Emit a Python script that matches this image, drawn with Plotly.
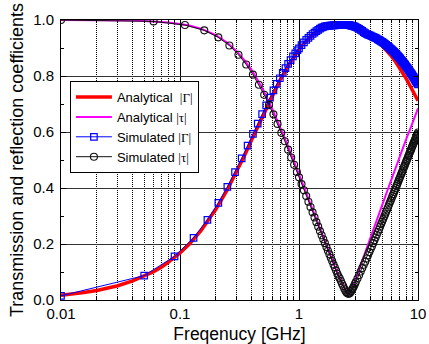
import plotly.graph_objects as go

# Analytical model curves (GHz, magnitude)
freq_an = [0.01, 0.012, 0.015, 0.02, 0.025, 0.03, 0.04, 0.05, 0.06, 0.07,
           0.08, 0.1, 0.12, 0.15, 0.2, 0.25, 0.3, 0.35, 0.4, 0.45,
           0.5, 0.6, 0.7, 0.8, 0.9, 1.0, 1.1, 1.2, 1.3, 1.4,
           1.5, 1.6, 1.8, 2.0, 2.2, 2.3, 2.4, 2.5, 2.55, 2.6,
           2.65, 2.7, 2.8, 2.9, 3.0, 3.2, 3.4, 3.6, 3.8, 4.0,
           4.3, 4.6, 5.0, 5.5, 6.0, 6.5, 7.0, 7.5, 8.0, 8.5,
           9.0, 9.5, 10.0]
gamma_an = [0.017, 0.020, 0.026, 0.034, 0.042, 0.051, 0.068, 0.085, 0.101, 0.118,
            0.135, 0.168, 0.200, 0.248, 0.324, 0.394, 0.459, 0.518, 0.572, 0.619,
            0.662, 0.733, 0.789, 0.832, 0.867, 0.894, 0.916, 0.933, 0.947, 0.958,
            0.967, 0.975, 0.980, 0.981, 0.981, 0.982, 0.982, 0.982, 0.982, 0.982,
            0.982, 0.981, 0.979, 0.977, 0.974, 0.966, 0.959, 0.951, 0.946, 0.941,
            0.932, 0.922, 0.908, 0.889, 0.870, 0.850, 0.829, 0.809, 0.789, 0.768,
            0.749, 0.729, 0.712]
tau_an = [1.000, 1.000, 1.000, 0.999, 0.999, 0.999, 0.998, 0.996, 0.995, 0.993,
          0.991, 0.986, 0.980, 0.969, 0.946, 0.919, 0.888, 0.855, 0.821, 0.785,
          0.750, 0.680, 0.615, 0.554, 0.499, 0.448, 0.402, 0.360, 0.321, 0.286,
          0.253, 0.223, 0.168, 0.119, 0.078, 0.059, 0.041, 0.027, 0.022, 0.020,
          0.022, 0.028, 0.043, 0.059, 0.076, 0.108, 0.139, 0.168, 0.196, 0.222,
          0.260, 0.295, 0.339, 0.388, 0.433, 0.474, 0.511, 0.545, 0.577, 0.605,
          0.631, 0.657, 0.684]

# Simulated reflection |Gamma| (square markers)
freq_sim_gamma = [0.01, 0.05, 0.09, 0.13, 0.17, 0.21, 0.25, 0.29, 0.33, 0.37,
                  0.41, 0.45, 0.49, 0.53, 0.57, 0.61, 0.65, 0.69, 0.73, 0.77,
                  0.81, 0.85, 0.89, 0.93, 0.97,
                  1.00, 1.05, 1.10, 1.15, 1.20, 1.25, 1.30, 1.35, 1.40, 1.45,
                  1.50, 1.55, 1.60, 1.65, 1.70, 1.75, 1.80, 1.85, 1.90, 1.95,
                  2.00, 2.05, 2.10, 2.15, 2.20, 2.25, 2.30, 2.35, 2.40, 2.45,
                  2.50, 2.55, 2.60, 2.65, 2.70, 2.75, 2.80, 2.85, 2.90, 2.95,
                  3.00,
                  3.1, 3.2, 3.3, 3.4, 3.5, 3.6, 3.7, 3.8, 3.9, 4.0,
                  4.1, 4.2, 4.3, 4.4, 4.5, 4.6, 4.7, 4.8, 4.9, 5.0,
                  5.1, 5.2, 5.3, 5.4, 5.5, 5.6, 5.7, 5.8, 5.9, 6.0,
                  6.1, 6.2, 6.3, 6.4, 6.5, 6.6, 6.7, 6.8, 6.9, 7.0,
                  7.1, 7.2, 7.3, 7.4, 7.5, 7.6, 7.7, 7.8, 7.9, 8.0,
                  8.1, 8.2, 8.3, 8.4, 8.5, 8.6, 8.7, 8.8, 8.9, 9.0,
                  9.1, 9.2, 9.3, 9.4, 9.5, 9.6, 9.7, 9.8, 9.9, 10.0]
gamma_sim = [0.015, 0.087, 0.156, 0.222, 0.286, 0.347, 0.404, 0.457, 0.506, 0.551,
             0.593, 0.630, 0.664, 0.695, 0.723, 0.749, 0.772, 0.792, 0.811, 0.828,
             0.843, 0.857, 0.870, 0.881, 0.892,
             0.899, 0.910, 0.920, 0.929, 0.936, 0.943, 0.950, 0.955, 0.960, 0.965,
             0.969, 0.973, 0.975, 0.977, 0.978, 0.979, 0.980, 0.980, 0.981, 0.981,
             0.981, 0.982, 0.982, 0.982, 0.982, 0.982, 0.982, 0.982, 0.982, 0.982,
             0.982, 0.982, 0.982, 0.982, 0.981, 0.980, 0.979, 0.978, 0.977, 0.976,
             0.975,
             0.972, 0.968, 0.965, 0.961, 0.957, 0.953, 0.950, 0.948, 0.946, 0.944,
             0.942, 0.940, 0.938, 0.936, 0.934, 0.931, 0.929, 0.926, 0.924, 0.922,
             0.919, 0.917, 0.914, 0.911, 0.908, 0.906, 0.903, 0.900, 0.897, 0.894,
             0.892, 0.889, 0.886, 0.883, 0.880, 0.877, 0.874, 0.871, 0.868, 0.865,
             0.862, 0.858, 0.855, 0.852, 0.849, 0.846, 0.843, 0.840, 0.836, 0.833,
             0.830, 0.827, 0.824, 0.821, 0.817, 0.814, 0.811, 0.808, 0.805, 0.801,
             0.798, 0.795, 0.792, 0.789, 0.785, 0.782, 0.779, 0.776, 0.773, 0.770]

# Simulated transmission |tau| (circle markers)
freq_sim_tau = [0.01, 0.06, 0.11, 0.16, 0.21, 0.26, 0.31, 0.36, 0.41, 0.46,
                0.51, 0.56, 0.61, 0.66, 0.71, 0.76, 0.81, 0.86, 0.91, 0.96,
                1.00, 1.05, 1.10, 1.15, 1.20, 1.25, 1.30, 1.35, 1.40, 1.45,
                1.50, 1.55, 1.60, 1.65, 1.70, 1.75, 1.80, 1.85, 1.90, 1.95,
                2.00, 2.05, 2.10, 2.15, 2.20, 2.25, 2.30, 2.35, 2.40, 2.45,
                2.50, 2.55, 2.60, 2.65, 2.70, 2.75, 2.80, 2.85, 2.90, 2.95,
                3.00,
                3.1, 3.2, 3.3, 3.4, 3.5, 3.6, 3.7, 3.8, 3.9, 4.0,
                4.1, 4.2, 4.3, 4.4, 4.5, 4.6, 4.7, 4.8, 4.9, 5.0,
                5.1, 5.2, 5.3, 5.4, 5.5, 5.6, 5.7, 5.8, 5.9, 6.0,
                6.1, 6.2, 6.3, 6.4, 6.5, 6.6, 6.7, 6.8, 6.9, 7.0,
                7.1, 7.2, 7.3, 7.4, 7.5, 7.6, 7.7, 7.8, 7.9, 8.0,
                8.1, 8.2, 8.3, 8.4, 8.5, 8.6, 8.7, 8.8, 8.9, 9.0,
                9.1, 9.2, 9.3, 9.4, 9.5, 9.6, 9.7, 9.8, 9.9, 10.0]
tau_sim = [1.000, 0.995, 0.982, 0.963, 0.938, 0.909, 0.876, 0.841, 0.805, 0.769,
           0.733, 0.697, 0.663, 0.629, 0.597, 0.567, 0.537, 0.509, 0.483, 0.457,
           0.438, 0.414, 0.392, 0.371, 0.351, 0.332, 0.313, 0.295, 0.278, 0.262,
           0.246, 0.231, 0.217, 0.203, 0.189, 0.176, 0.163, 0.151, 0.139, 0.127,
           0.116, 0.105, 0.094, 0.084, 0.077, 0.068, 0.058, 0.050, 0.041, 0.034,
           0.028, 0.024, 0.022, 0.023, 0.027, 0.032, 0.038, 0.044, 0.050, 0.057,
           0.064,
           0.077, 0.089, 0.102, 0.114, 0.126, 0.137, 0.148, 0.160, 0.171, 0.182,
           0.192, 0.203, 0.213, 0.223, 0.233, 0.243, 0.252, 0.262, 0.271, 0.280,
           0.289, 0.298, 0.306, 0.315, 0.323, 0.331, 0.340, 0.348, 0.355, 0.363,
           0.371, 0.378, 0.386, 0.393, 0.400, 0.407, 0.414, 0.421, 0.428, 0.435,
           0.441, 0.448, 0.454, 0.460, 0.467, 0.473, 0.479, 0.485, 0.491, 0.497,
           0.502, 0.508, 0.514, 0.519, 0.525, 0.530, 0.535, 0.540, 0.546, 0.551,
           0.556, 0.561, 0.565, 0.570, 0.575, 0.580, 0.584, 0.589, 0.593, 0.598]

SERIF = '<span style="font-family:Liberation Serif">'
names = [
    'Analytical  ' + SERIF + '|Γ|</span>',
    'Analytical ' + SERIF + '|τ|</span>',
    'Simulated ' + SERIF + '|Γ|</span>',
    'Simulated ' + SERIF + '|τ|</span>',
]

fig = go.Figure()
fig.add_trace(go.Scatter(x=freq_an, y=gamma_an, mode='lines', name=names[0],
                         line=dict(color='#ff0000', width=3.5)))
fig.add_trace(go.Scatter(x=freq_an, y=tau_an, mode='lines', name=names[1],
                         line=dict(color='#ff00ff', width=2)))
fig.add_trace(go.Scatter(x=freq_sim_gamma, y=gamma_sim, mode='lines+markers', name=names[2],
                         line=dict(color='#0000ff', width=1),
                         marker=dict(symbol='square-open', size=6.5, color='#0000ff',
                                     line=dict(width=1.2, color='#0000ff'))))
fig.add_trace(go.Scatter(x=freq_sim_tau, y=tau_sim, mode='lines+markers', name=names[3],
                         line=dict(color='#111111', width=1),
                         marker=dict(symbol='circle-open', size=7, color='#111111',
                                     line=dict(width=1.1, color='#111111'))))

fig.update_layout(
    width=429, height=344,
    margin=dict(l=61, r=11, t=20, b=44, autoexpand=False),
    paper_bgcolor='white', plot_bgcolor='white',
    font=dict(family='Liberation Sans, Arial, sans-serif', size=15, color='black'),
    legend=dict(x=0.025, y=0.782, xanchor='left', yanchor='top',
                bgcolor='white', bordercolor='black', borderwidth=1,
                font=dict(size=13), tracegroupgap=0, itemwidth=36,
                entrywidth=116),
)
fig.update_xaxes(
    type='log', range=[-2, 1], automargin=False,
    tickvals=[0.01, 0.1, 1, 10], ticktext=['0.01', '0.1', '1', '10'],
    ticks='inside', ticklen=5, tickcolor='black',
    showline=True, linecolor='black', linewidth=1, mirror='allticks',
    showgrid=True, gridcolor='black', gridwidth=1, zeroline=False,
    minor=dict(dtick='D1', ticks='inside', ticklen=3, tickcolor='black',
               showgrid=True, gridcolor='black', gridwidth=1, griddash='1px,1px'),
    title=dict(text='Freqenucy [GHz]', font=dict(size=17.5), standoff=9),
)
fig.update_yaxes(
    range=[0, 1.0], dtick=0.2, tickformat='.1f', automargin=False,
    ticks='inside', ticklen=5, tickcolor='black', ticklabelstandoff=3,
    showline=True, linecolor='black', linewidth=1, mirror='allticks',
    showgrid=True, gridcolor='#333333', gridwidth=1, zeroline=False,
    minor=dict(dtick=0.1, ticks='inside', ticklen=3, tickcolor='black', showgrid=False),
    title=dict(text='Transmission and reflection coefficients', font=dict(size=18), standoff=4),
)

fig.write_html('out.html')
